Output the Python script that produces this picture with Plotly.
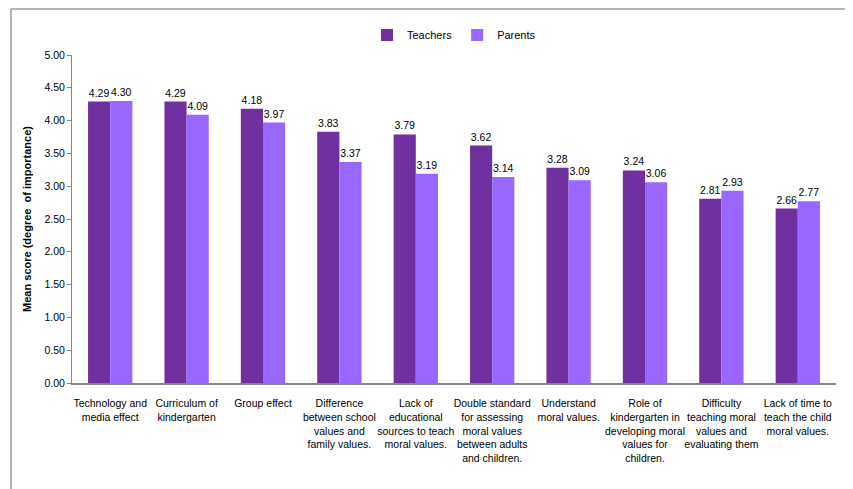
import plotly.graph_objects as go

categories = [
    "Technology and<br>media effect",
    "Curriculum of<br>kindergarten",
    "Group effect",
    "Difference<br>between school<br>values and<br>family values.",
    "Lack of<br>educational<br>sources to teach<br>moral values.",
    "Double standard<br>for assessing<br>moral values<br>between adults<br>and children.",
    "Understand<br>moral values.",
    "Role of<br>kindergarten in<br>developing moral<br>values for<br>children.",
    "Difficulty<br>teaching moral<br>values and<br>evaluating them",
    "Lack of time to<br>teach the child<br>moral values.",
]
teachers = [4.29, 4.29, 4.18, 3.83, 3.79, 3.62, 3.28, 3.24, 2.81, 2.66]
parents = [4.30, 4.09, 3.97, 3.37, 3.19, 3.14, 3.09, 3.06, 2.93, 2.77]
y_ticks = [0, 0.5, 1, 1.5, 2, 2.5, 3, 3.5, 4, 4.5, 5]

FONT = "Liberation Sans, Arial, sans-serif"

W, H = 853, 489
L, R, T, B = 64, 25, 47, 114
PW, PH = W - L - R, H - T - B

fig = go.Figure()
fig.add_trace(go.Bar(
    name="Teachers", x=categories, y=teachers,
    marker=dict(color="#7030A0", line=dict(width=0)),
    text=[f"{v:.2f}" for v in teachers], textposition="outside",
    textfont=dict(size=10.5, color="#000000", family=FONT), cliponaxis=False,
))
fig.add_trace(go.Bar(
    name="Parents", x=categories, y=parents,
    marker=dict(color="#9966FF", line=dict(width=0)),
    text=[f"{v:.2f}" for v in parents], textposition="outside",
    textfont=dict(size=10.5, color="#000000", family=FONT), cliponaxis=False,
))

fig.update_layout(
    width=W, height=H,
    margin=dict(l=L, r=R, t=T, b=B, autoexpand=False),
    paper_bgcolor="white", plot_bgcolor="white",
    barmode="group", bargap=0.42, bargroupgap=0,
    font=dict(family=FONT, size=11, color="#000000"),
    showlegend=True,
    legend=dict(orientation="h", x=(446 - L) / PW, xanchor="center", y=1 + 20 / PH,
                yanchor="middle", font=dict(size=11, family=FONT), itemwidth=30,
                traceorder="normal", tracegroupgap=0, bgcolor="rgba(0,0,0,0)"),
    xaxis=dict(showline=True, linecolor="#868686", linewidth=1.5, ticks="",
               tickfont=dict(size=10.5, family=FONT), showgrid=False, tickangle=0,
               automargin=False, ticklabelstandoff=10),
    yaxis=dict(range=[0, 5], tickvals=y_ticks, tickformat=".2f",
               showline=True, linecolor="#868686", linewidth=1, ticks="outside",
               ticklen=4, tickcolor="#868686", showgrid=False, zeroline=False,
               tickfont=dict(size=10.5, family=FONT), automargin=False,
               title=dict(text="<b>Mean score (degree  of importance)</b>",
                          font=dict(size=11, family=FONT), standoff=10)),
    shapes=[
        dict(type="line", xref="paper", yref="paper", x0=(3 - L) / PW, x1=(3 - L) / PW,
             y0=-B / PH, y1=1 + (T - 1) / PH, line=dict(color="#9a9a9a", width=1.5)),
        dict(type="line", xref="paper", yref="paper", x0=(3 - L) / PW, x1=1 + R / PW,
             y0=1 + (T - 1) / PH, y1=1 + (T - 1) / PH,
             line=dict(color="#9a9a9a", width=1.5)),
    ],
)

fig.write_html("out.html")
